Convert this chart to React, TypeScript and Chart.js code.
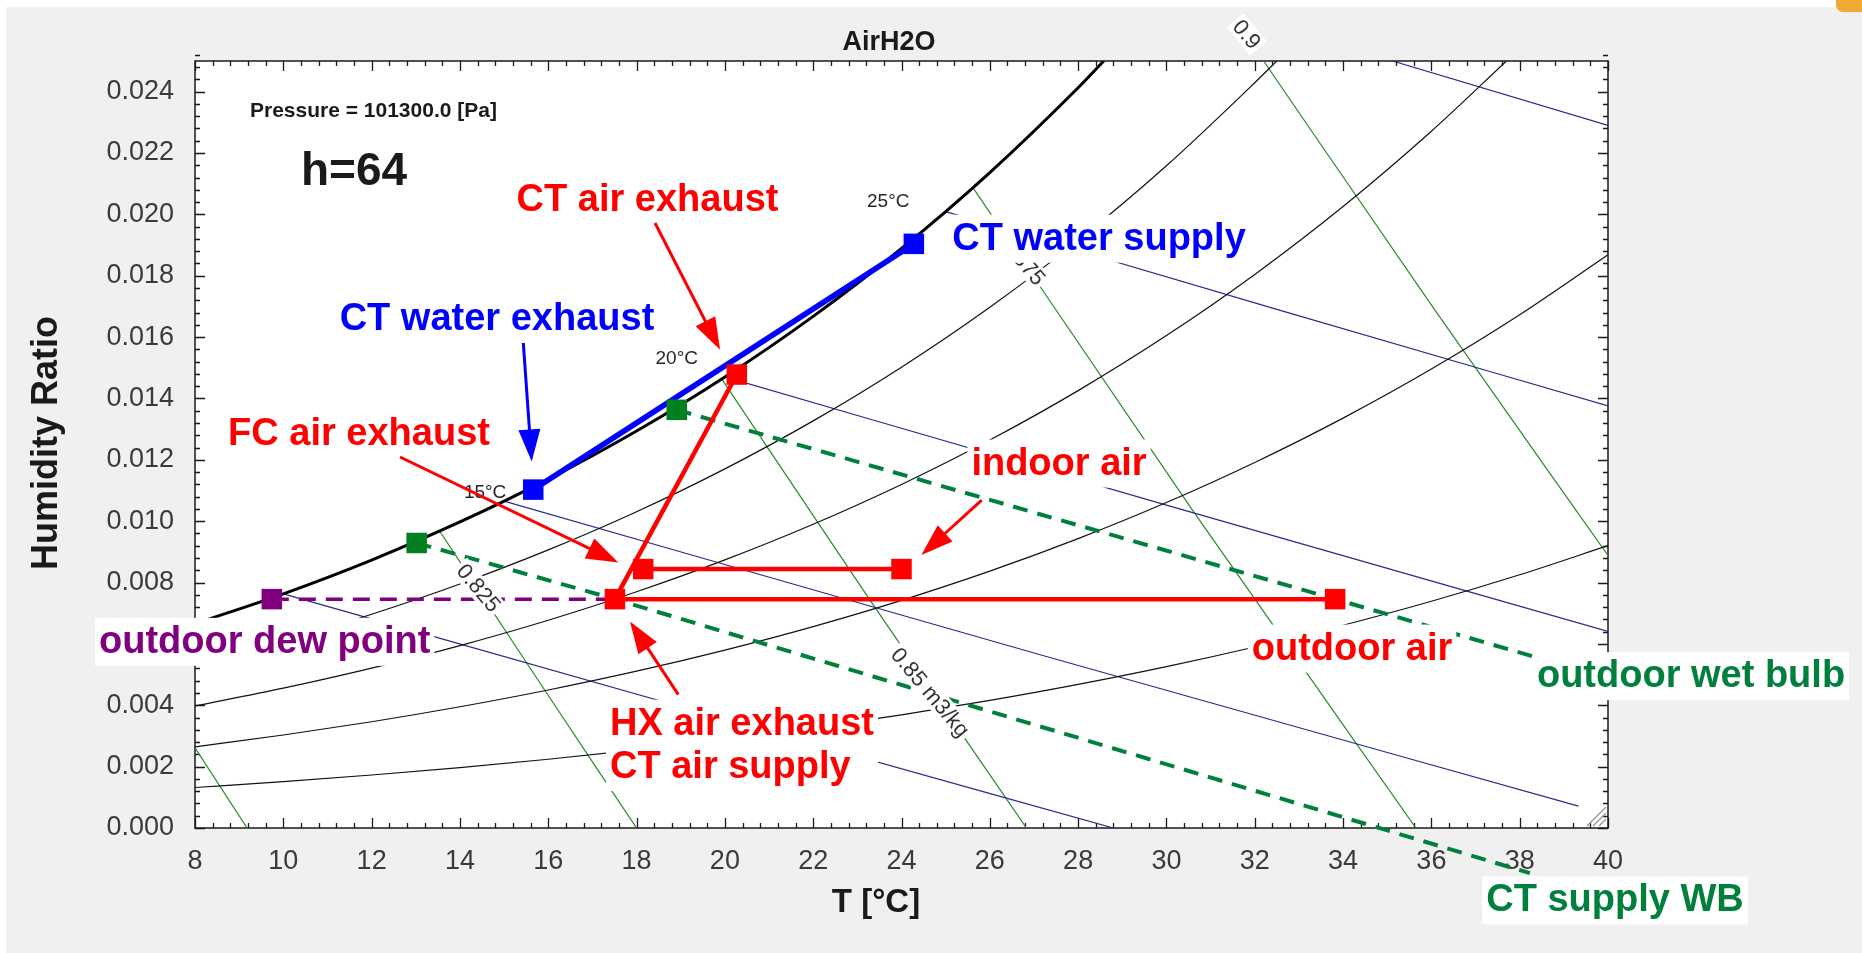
import React, { useEffect, useRef } from "react";
import { Chart, registerables } from "chart.js";

Chart.register(...registerables);

const FONT = "'Liberation Sans', Arial, Helvetica, sans-serif";
Chart.defaults.font.family = FONT;

// ---------- axes ----------
const tTicks = [8, 10, 12, 14, 16, 18, 20, 22, 24, 26, 28, 30, 32, 34, 36, 38, 40];
const wTicks = [0, 0.002, 0.004, 0.006, 0.008, 0.01, 0.012, 0.014, 0.016, 0.018, 0.02, 0.022, 0.024];
const T_MIN = 8;
const T_MAX = 40;
const W_MIN = 0;
const W_MAX = 0.025;
const T_MINOR = 0.4;
const W_MINOR = 0.0004;

// ---------- saturation curve (RH = 1.0) ----------
const satT = [8, 10, 12, 14, 16, 18, 20, 22, 24, 26, 28, 28.58];
const satW = [0.006658, 0.007633, 0.008734, 0.009975, 0.011371, 0.01294, 0.014702, 0.016677, 0.018888, 0.021363, 0.024128, 0.025];

// ---------- relative humidity curves ----------
const rh80T = [8, 10, 12, 14, 16, 18, 20, 22, 24, 26, 28, 30, 32, 32.5];
const rh80W = [0.005315, 0.006092, 0.006967, 0.007954, 0.009064, 0.010309, 0.011706, 0.01327, 0.01502, 0.016973, 0.019154, 0.021584, 0.024291, 0.025];
const rh60T = [8, 10, 12, 14, 16, 18, 20, 22, 24, 26, 28, 30, 32, 34, 36, 37.7];
const rh60W = [0.003978, 0.004558, 0.005211, 0.005947, 0.006773, 0.0077, 0.008739, 0.0099, 0.011197, 0.012644, 0.014256, 0.016049, 0.018042, 0.020256, 0.022711, 0.025];
const rh40T = [8, 10, 12, 14, 16, 18, 20, 22, 24, 26, 28, 30, 32, 34, 36, 38, 40];
const rh40W = [0.002646, 0.003031, 0.003464, 0.003952, 0.004499, 0.005112, 0.005799, 0.006565, 0.00742, 0.008372, 0.009432, 0.010608, 0.011913, 0.013359, 0.014958, 0.016727, 0.018681];
const rh20T = [8, 10, 12, 14, 16, 18, 20, 22, 24, 26, 28, 30, 32, 34, 36, 38, 40];
const rh20W = [0.00132, 0.001512, 0.001727, 0.00197, 0.002241, 0.002546, 0.002886, 0.003265, 0.003688, 0.004158, 0.00468, 0.005259, 0.0059, 0.006608, 0.00739, 0.008253, 0.009203];

// ---------- wet-bulb lines (start on saturation) ----------
const wb10T = [10, 20, 28.8];
const wb10W = [0.007633, 0.003546, 0];
const wb15T = [15, 27.2, 39.33];
const wb15W = [0.010652, 0.005624, 0.000714];
const wb20T = [20, 30, 40];
const wb20W = [0.014702, 0.010524, 0.006408];
const wb25T = [25, 32.5, 40];
const wb25W = [0.020091, 0.016906, 0.013756];
const wb30T = [35.12, 40];
const wb30W = [0.025, 0.022903];

// ---------- specific volume lines ----------
const v800T = [8, 9.18];
const v800W = [0.002612, 0];
const v825T = [13.54, 15.76, 18.0];
const v825W = [0.00968, 0.00484, 0];
const v850T = [19.93, 23.34, 26.83];
const v850W = [0.01463, 0.007315, 0];
const v875T = [25.61, 30.55, 35.65];
const v875W = [0.02089, 0.010445, 0];
const v900T = [32.2, 36.1, 40];
const v900W = [0.025, 0.016837, 0.008882];

// ---------- process states ----------
// HX air exhaust / CT air supply, FC air exhaust, indoor air, CT air exhaust, outdoor air
const airT = [17.51, 18.15, 24.0, 20.27, 33.82];
const airW = [0.00746, 0.00844, 0.00844, 0.01478, 0.00746];
// CT water exhaust, CT water supply
const waterT = [15.66, 24.28];
const waterW = [0.01103, 0.01904];
// CT supply wet bulb, outdoor wet bulb
const wetT = [13.02, 18.91];
const wetW = [0.00929, 0.01363];
// outdoor dew point
const dewT = [9.74];
const dewW = [0.00746];

// wet-bulb construction lines beyond the states
const supplyWbEndT = [38.23];
const supplyWbEndW = [-0.00147];
const outdoorWbEndT = [38.31];
const outdoorWbEndW = [0.00559];

// ---------- chart labels ----------
const wbLabelText = ["15°C", "20°C", "25°C"];
const wbLabelT = [14.57, 18.91, 23.7];
const wbLabelW = [0.01092, 0.01529, 0.0204];

const volLabelText = ["0.825", "0.85 m3/kg", "0.875", "0.9"];
const volLabelT = [14.42, 24.65, 26.76, 31.82];
const volLabelW = [0.00782, 0.00442, 0.01847, 0.02587];

const RED = "#ff0000";
const BLUE = "#0000ff";
const GREEN_TXT = "#00803c";
const GREEN_PT = "#008020";
const PURPLE = "#800080";

const notes = [
  { lines: ["CT air exhaust"], T: 18.248, W: 0.0201, color: RED, align: "center" },
  { lines: ["CT water exhaust"], T: 14.839, W: 0.01624, color: BLUE, align: "center" },
  { lines: ["CT water supply"], T: 28.473, W: 0.01885, color: BLUE, align: "center" },
  { lines: ["FC air exhaust"], T: 11.714, W: 0.01249, color: RED, align: "center" },
  { lines: ["indoor air"], T: 27.567, W: 0.01152, color: RED, align: "center" },
  { lines: ["outdoor dew point"], T: 9.578, W: 0.00571, color: PURPLE, align: "center" },
  { lines: ["outdoor air"], T: 34.203, W: 0.00549, color: RED, align: "center" },
  { lines: ["HX air exhaust", "CT air supply"], T: 17.398, W: 0.00304, color: RED, align: "left" },
  { lines: ["outdoor wet bulb"], T: 41.88, W: 0.00459, color: GREEN_TXT, align: "center" },
  { lines: ["CT supply WB"], T: 40.159, W: -0.00272, color: GREEN_TXT, align: "center" },
];

const arrows = [
  { from: [18.418, 0.019719], to: [19.89, 0.01559], color: RED },
  { from: [15.435, 0.015808], to: [15.625, 0.011949], color: BLUE },
  { from: [12.643, 0.012093], to: [17.587, 0.008657], color: RED },
  { from: [25.816, 0.010685], to: [24.451, 0.008901], color: RED },
  { from: [18.945, 0.004345], to: [17.851, 0.006734], color: RED },
];

const pts = (xs: number[], ys: number[]) => xs.map((x, i) => ({ x, y: ys[i] }));
const pick = (xs: number[], ys: number[], idx: number[]) => idx.map((i) => ({ x: xs[i], y: ys[i] }));

const curve = (data: any[], color: string, width: number, order: number, extra: any = {}) => ({
  data,
  showLine: true,
  borderColor: color,
  backgroundColor: color,
  borderWidth: width,
  pointRadius: 0,
  pointHoverRadius: 0,
  fill: false,
  order,
  borderCapStyle: "butt",
  ...extra,
});

const markers = (data: any[], color: string) => ({
  data,
  showLine: false,
  pointStyle: "rect",
  pointRadius: 14.5,
  pointHoverRadius: 14.5,
  pointBackgroundColor: color,
  pointBorderWidth: 0,
  order: 0,
});

const THIN_K = "#111111";
const THIN_B = "#2a2a8c";
const THIN_G = "#2a8a2a";
const smooth = { cubicInterpolationMode: "monotone" };

const datasets: any[] = [
  curve(pts(rh20T, rh20W), THIN_K, 1.2, 6, smooth),
  curve(pts(rh40T, rh40W), THIN_K, 1.2, 6, smooth),
  curve(pts(rh60T, rh60W), THIN_K, 1.2, 6, smooth),
  curve(pts(rh80T, rh80W), THIN_K, 1.2, 6, smooth),
  curve(pts(wb10T, wb10W), THIN_B, 1.2, 6, smooth),
  curve(pts(wb15T, wb15W), THIN_B, 1.2, 6, smooth),
  curve(pts(wb20T, wb20W), THIN_B, 1.2, 6, smooth),
  curve(pts(wb25T, wb25W), THIN_B, 1.2, 6, smooth),
  curve(pts(wb30T, wb30W), THIN_B, 1.2, 6),
  curve(pts(v800T, v800W), THIN_G, 1.2, 6),
  curve(pts(v825T, v825W), THIN_G, 1.2, 6, smooth),
  curve(pts(v850T, v850W), THIN_G, 1.2, 6, smooth),
  curve(pts(v875T, v875W), THIN_G, 1.2, 6, smooth),
  curve(pts(v900T, v900W), THIN_G, 1.2, 6, smooth),
  curve(pts(satT, satW), "#000000", 3, 5, smooth),
  // dashed construction lines
  curve([...pick(dewT, dewW, [0]), ...pick(airT, airW, [0])], PURPLE, 3.5, 3, { borderDash: [17, 10] }),
  curve([...pick(wetT, wetW, [0]), ...pick(airT, airW, [0]), ...pts(supplyWbEndT, supplyWbEndW)], GREEN_TXT, 4, 3, {
    borderDash: [15, 10],
    clip: false,
  }),
  curve([...pick(wetT, wetW, [1]), ...pick(airT, airW, [4]), ...pts(outdoorWbEndT, outdoorWbEndW)], GREEN_TXT, 4, 3, {
    borderDash: [15, 10],
  }),
  // process paths
  curve(pick(airT, airW, [0, 4]), RED, 4.5, 2),
  curve(pick(airT, airW, [1, 2]), RED, 4.5, 2),
  curve(pick(airT, airW, [0, 3]), RED, 4.5, 2),
  curve(pts(waterT, waterW), BLUE, 5.5, 2),
  // states
  markers(pts(airT, airW), RED),
  markers(pts(waterT, waterW), BLUE),
  markers(pts(wetT, wetW), GREEN_PT),
  markers(pts(dewT, dewW), PURPLE),
];

const decor = {
  id: "psychroDecor",
  beforeDraw(chart: any) {
    const { ctx, chartArea: a, width, height } = chart;
    ctx.save();
    ctx.fillStyle = "#ffffff";
    ctx.fillRect(0, 0, width, height);
    ctx.fillStyle = "#f0f0f0";
    ctx.fillRect(6, 7, width - 6, height - 7);
    ctx.fillStyle = "#ffffff";
    ctx.fillRect(a.left, a.top, a.right - a.left, a.bottom - a.top);
    // small tab in the top-right corner
    ctx.fillStyle = "#f0a935";
    ctx.beginPath();
    ctx.roundRect(1836, -12, 60, 24, 7);
    ctx.fill();
    ctx.restore();
  },
  beforeDatasetsDraw(chart: any) {
    const { ctx, chartArea: a, scales } = chart;
    const xs = scales.x;
    const ys = scales.y;
    ctx.save();
    ctx.strokeStyle = "#1a1a1a";
    ctx.lineWidth = 1.5;
    ctx.strokeRect(a.left, a.top, a.right - a.left, a.bottom - a.top);
    ctx.lineWidth = 1.3;
    ctx.beginPath();
    const nx = Math.round((T_MAX - T_MIN) / T_MINOR);
    for (let i = 0; i <= nx; i++) {
      const v = T_MIN + i * T_MINOR;
      const len = i % 5 === 0 ? 10 : 5;
      const x = Math.round(xs.getPixelForValue(v)) + 0.5;
      ctx.moveTo(x, a.bottom);
      ctx.lineTo(x, a.bottom - len);
      ctx.moveTo(x, a.top);
      ctx.lineTo(x, a.top + len);
    }
    const ny = Math.round((W_MAX - W_MIN) / W_MINOR);
    for (let i = 0; i <= ny; i++) {
      const v = W_MIN + i * W_MINOR;
      const len = i % 5 === 0 ? 10 : 5;
      const y = Math.round(ys.getPixelForValue(v)) + 0.5;
      ctx.moveTo(a.left, y);
      ctx.lineTo(a.left + len, y);
      ctx.moveTo(a.right, y);
      ctx.lineTo(a.right - len, y);
    }
    ctx.stroke();
    ctx.restore();
  },
  afterDatasetsDraw(chart: any) {
    const { ctx, scales } = chart;
    const P = (T: number, W: number) => [scales.x.getPixelForValue(T), scales.y.getPixelForValue(W)];
    ctx.save();

    // resize grip in the lower-right corner
    ctx.strokeStyle = "#9a9a9a";
    ctx.lineWidth = 1.5;
    const cx = chart.chartArea.right - 2;
    const cy = chart.chartArea.bottom - 2;
    for (const d of [7, 13, 19]) {
      ctx.beginPath();
      ctx.moveTo(cx - d, cy);
      ctx.lineTo(cx, cy - d);
      ctx.stroke();
    }

    // specific volume labels
    ctx.font = `22px ${FONT}`;
    ctx.textAlign = "center";
    ctx.textBaseline = "middle";
    volLabelText.forEach((t, i) => {
      const [x, y] = P(volLabelT[i], volLabelW[i]);
      const w = ctx.measureText(t).width;
      ctx.save();
      ctx.translate(x, y);
      ctx.rotate((50 * Math.PI) / 180);
      ctx.fillStyle = "#ffffff";
      ctx.fillRect(-w / 2 - 3, -11, w + 6, 22);
      ctx.fillStyle = "#333333";
      ctx.fillText(t, 0, 1);
      ctx.restore();
    });

    // wet-bulb temperature labels
    ctx.font = `19px ${FONT}`;
    ctx.fillStyle = "#262626";
    wbLabelText.forEach((t, i) => {
      const [x, y] = P(wbLabelT[i], wbLabelW[i]);
      ctx.fillText(t, x, y);
    });

    // annotation texts with white boxes
    ctx.font = `bold 38px ${FONT}`;
    ctx.textBaseline = "alphabetic";
    for (const n of notes) {
      const [x, y] = P(n.T, n.W);
      const widths = n.lines.map((l) => ctx.measureText(l).width);
      const maxW = Math.max(...widths);
      const gap = 43.3;
      const left = n.align === "left" ? x : x - maxW / 2;
      const top = y - 35;
      const bottom = y + gap * (n.lines.length - 1) + 13;
      ctx.fillStyle = "#ffffff";
      ctx.fillRect(left - 4, top, maxW + 8, bottom - top);
      ctx.fillStyle = n.color;
      ctx.textAlign = n.align === "left" ? "left" : "center";
      n.lines.forEach((l, k) => ctx.fillText(l, x, y + gap * k));
    }

    // arrows
    for (const ar of arrows) {
      const [x0, y0] = P(ar.from[0], ar.from[1]);
      const [x1, y1] = P(ar.to[0], ar.to[1]);
      const dx = x1 - x0;
      const dy = y1 - y0;
      const len = Math.hypot(dx, dy);
      const ux = dx / len;
      const uy = dy / len;
      const head = 32;
      const half = 11;
      const bx = x1 - ux * head;
      const by = y1 - uy * head;
      ctx.strokeStyle = ar.color;
      ctx.fillStyle = ar.color;
      ctx.lineWidth = 3;
      ctx.beginPath();
      ctx.moveTo(x0, y0);
      ctx.lineTo(bx + ux * 2, by + uy * 2);
      ctx.stroke();
      ctx.beginPath();
      ctx.moveTo(x1, y1);
      ctx.lineTo(bx - uy * half, by + ux * half);
      ctx.lineTo(bx + uy * half, by - ux * half);
      ctx.closePath();
      ctx.fill();
    }

    // chart texts
    ctx.fillStyle = "#1a1a1a";
    ctx.textAlign = "center";
    ctx.font = `bold 27px ${FONT}`;
    ctx.fillText("AirH2O", 889, 50);
    ctx.textAlign = "left";
    ctx.font = `bold 21px ${FONT}`;
    ctx.fillText("Pressure = 101300.0 [Pa]", 250, 117);
    ctx.font = `bold 46px ${FONT}`;
    ctx.fillText("h=64", 301, 185);
    ctx.textAlign = "center";
    ctx.font = `bold 33px ${FONT}`;
    ctx.fillText("T [°C]", 876, 912);
    ctx.save();
    ctx.translate(57, 443);
    ctx.rotate(-Math.PI / 2);
    ctx.font = `bold 36px ${FONT}`;
    ctx.fillText("Humidity Ratio", 0, 0);
    ctx.restore();

    ctx.restore();
  },
};

export default function App() {
  const ref = useRef<HTMLCanvasElement>(null);

  useEffect(() => {
    document.body.style.margin = "0";
    const canvas = ref.current;
    if (!canvas) return;
    const chart = new Chart(canvas, {
      type: "scatter",
      data: { datasets },
      options: {
        responsive: false,
        devicePixelRatio: 1,
        animation: false,
        events: [],
        layout: { padding: { left: 0, top: 61, right: 254, bottom: 0 } },
        plugins: {
          legend: { display: false },
          tooltip: { enabled: false },
          title: { display: false },
        },
        scales: {
          x: {
            type: "linear",
            min: T_MIN,
            max: T_MAX,
            grid: { display: false },
            border: { display: false },
            afterBuildTicks: (s: any) => {
              s.ticks = tTicks.map((v) => ({ value: v }));
            },
            afterFit: (s: any) => {
              s.height = 125;
            },
            ticks: {
              autoSkip: false,
              maxRotation: 0,
              padding: 9,
              color: "#3a3a3a",
              font: { size: 27 },
              callback: (v: any) => String(v),
            },
          },
          y: {
            type: "linear",
            min: W_MIN,
            max: W_MAX,
            grid: { display: false },
            border: { display: false },
            afterBuildTicks: (s: any) => {
              s.ticks = wTicks.map((v) => ({ value: v }));
            },
            afterFit: (s: any) => {
              s.width = 195;
            },
            ticks: {
              autoSkip: false,
              padding: 13,
              color: "#3a3a3a",
              font: { size: 27 },
              callback: (v: any) => Number(v).toFixed(3),
            },
          },
        },
      } as any,
      plugins: [decor],
    });
    return () => chart.destroy();
  }, []);

  return (
    <div style={{ width: 1862, height: 953 }}>
      <canvas ref={ref} width={1862} height={953} style={{ display: "block", width: 1862, height: 953 }} />
    </div>
  );
}
